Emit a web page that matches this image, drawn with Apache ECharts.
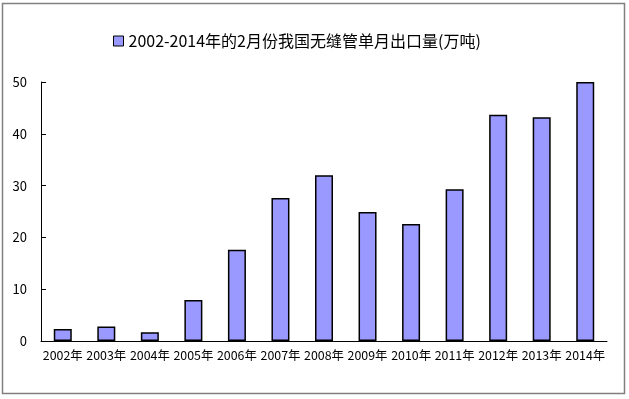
<!DOCTYPE html>
<html><head><meta charset="utf-8">
<script src="https://cdn.jsdelivr.net/npm/echarts@6/dist/echarts.min.js"></script>
<style>html,body{margin:0;padding:0;background:#fff}#c{width:629px;height:399px}</style>
</head><body><div id="c"></div>
<script>
const categories = ['2002年','2003年','2004年','2005年','2006年','2007年','2008年','2009年','2010年','2011年','2012年','2013年','2014年'];
const values = [2.3, 2.8, 1.7, 7.9, 17.6, 27.6, 32.0, 24.9, 22.6, 29.3, 43.7, 43.2, 50.0];
const seriesName = '2002-2014年的2月份我国无缝管单月出口量(万吨)';
const yTicks = {min: 0, max: 50, interval: 10};
const font = '"Noto Sans CJK SC", sans-serif';
const chart = echarts.init(document.getElementById('c'), null, {renderer: 'canvas'});
chart.setOption({
  animation: false,
  backgroundColor: '#fff',
  graphic: [{type: 'rect', shape: {x: 2.5, y: 3.5, width: 622, height: 390}, style: {fill: 'none', stroke: '#808080', lineWidth: 1.5}, z: 100}],
  legend: {
    data: [seriesName], left: 108, top: 28, itemWidth: 10, itemHeight: 10, itemGap: 4,
    icon: 'rect',
    itemStyle: {borderColor: '#000', borderWidth: 1},
    textStyle: {fontFamily: font, fontSize: 16, color: '#000'}
  },
  grid: {left: 41, right: 22, top: 82, bottom: 58, containLabel: false},
  xAxis: {
    type: 'category', data: categories, boundaryGap: true,
    axisLine: {lineStyle: {color: '#000', width: 1}},
    axisTick: {inside: true, length: 5, lineStyle: {color: '#000'}},
    axisLabel: {interval: 0, color: '#000', fontFamily: font, fontSize: 12.4, margin: 8}
  },
  yAxis: {
    type: 'value', min: yTicks.min, max: yTicks.max, interval: yTicks.interval,
    axisLine: {show: true, lineStyle: {color: '#000', width: 1}},
    axisTick: {show: true, inside: true, length: 5, lineStyle: {color: '#000'}},
    splitLine: {show: false},
    axisLabel: {color: '#000', fontFamily: font, fontSize: 13, margin: 14}
  },
  series: [{
    name: seriesName, type: 'bar', data: values, barWidth: 18,
    itemStyle: {color: '#9999ff', borderColor: '#000', borderWidth: 1.5}
  }]
});
</script></body></html>
